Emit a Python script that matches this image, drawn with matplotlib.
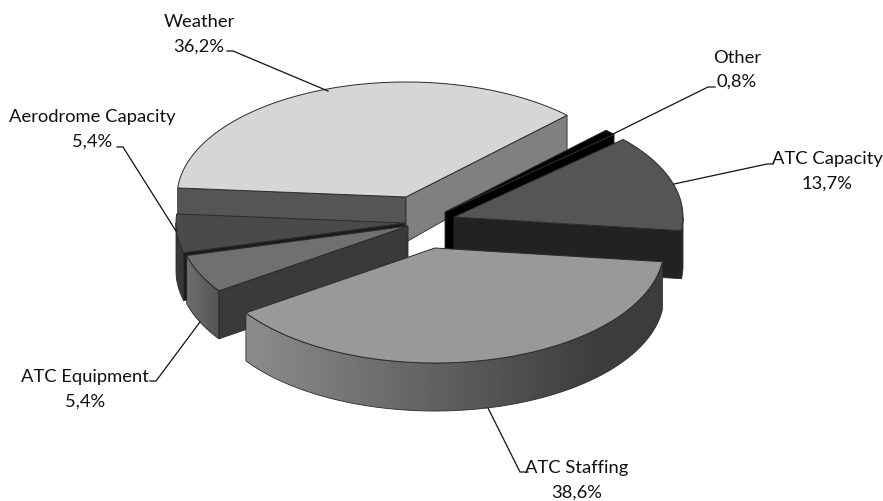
import numpy as np
import matplotlib
matplotlib.use("Agg")
import matplotlib.pyplot as plt
from matplotlib.patches import Polygon

# ---- data ----
categories = ["Other", "ATC Capacity", "ATC Staffing", "ATC Equipment", "Aerodrome Capacity", "Weather"]
shares = [0.8, 13.7, 38.6, 5.4, 5.4, 36.2]

# ---- styling / layout ----
START_ANGLE = 45.3
RX, RY = 229, 115
apex = {"Other": (445, 213), "ATC Capacity": (454, 218), "ATC Staffing": (435, 249),
        "ATC Equipment": (408, 227), "Aerodrome Capacity": (405, 224), "Weather": (406, 198)}
top_col = {"Other": "#000000", "ATC Capacity": "#555555", "ATC Staffing": "#999999",
           "ATC Equipment": "#707070", "Aerodrome Capacity": "#4a4a4a", "Weather": "#d6d6d6"}
# radial faces: (at slice start, at slice end); None = hidden
face_col = {"Other": (None, "#000000"), "ATC Capacity": (None, "#222222"), "ATC Staffing": (None, None),
            "ATC Equipment": ("#3a3a3a", None), "Aerodrome Capacity": ("#1c1c1c", None),
            "Weather": ("#555555", "#808080")}
# outer wall gradient: gray at the left end and at the right end, x range of the ramp
wall_grad = {"Other": (0.0, 0.0, 0, 1), "ATC Capacity": (0.13, 0.13, 0, 1),
             "ATC Staffing": (0.55, 0.235, 245, 600),
             "ATC Equipment": (0.44, 0.33, 185, 218),
             "Aerodrome Capacity": (0.22, 0.22, 0, 1), "Weather": (0.33, 0.33, 0, 1)}
draw_order = ["Weather", "Aerodrome Capacity", "ATC Equipment", "Other", "ATC Capacity", "ATC Staffing"]
label_pos = {"Other": (737, 58, 82), "ATC Capacity": (827, 159, 184), "ATC Staffing": (577, 468, 493),
             "ATC Equipment": (85, 377, 402), "Aerodrome Capacity": (92, 117, 142), "Weather": (199, 22, 47)}
leaders = {"Other": [(715, 88), (708, 88), (613, 135)],
           "ATC Capacity": [(773, 165), (767, 165), (674, 185)],
           "ATC Staffing": [(528, 473), (520, 473), (488, 409)],
           "ATC Equipment": [(150, 382), (156, 382), (200, 323)],
           "Aerodrome Capacity": [(117, 148), (123, 148), (176, 232)],
           "Weather": [(227, 52), (233, 52), (328, 92)]}
EDGE = "#2b2b2b"
FONT = "Lato"
FS = 13.2


def depth(y):
    return np.clip(35 + 0.125 * (np.asarray(y, float) - 117), 35, 48)


def pt(center, ang):
    a = np.radians(ang)
    return center[0] + RX * np.cos(a), center[1] - RY * np.sin(a)


def extrude(pts):
    pts = np.asarray(pts, float)
    out = pts.copy()
    out[:, 1] += depth(pts[:, 1])
    return out


fig = plt.figure(figsize=(8.83, 5.02), dpi=100)
ax = fig.add_axes([0, 0, 1, 1])
ax.axis("off")

# slice angles come from the shares, clockwise from the start angle
spans = np.array(shares) / sum(shares) * 360
ends = START_ANGLE - np.cumsum(spans)
starts = ends + spans
angles = {c: (s, e) for c, s, e in zip(categories, starts, ends)}

z = 1
for name in draw_order:
    a0, a1 = angles[name]
    c = apex[name]
    fs, fe = face_col[name]

    # outer wall, only the part facing the viewer (angles in the lower half)
    th = np.linspace(a0, a1, 200)
    vis = np.sin(np.radians(th)) < 0.0
    if vis.any():
        th = th[vis]
        top = np.array([pt(c, t) for t in th])
        bot = extrude(top)
        outline = np.vstack([top, bot[::-1]])
        gl, gr, xl, xr = wall_grad[name]
        x0, x1 = outline[:, 0].min(), outline[:, 0].max()
        y0, y1 = outline[:, 1].min(), outline[:, 1].max()
        xs = np.linspace(x0, x1, 300)
        g = gl + (gr - gl) * np.clip((xs - xl) / (xr - xl), 0, 1)
        patch = Polygon(outline, closed=True, facecolor="none", edgecolor=EDGE, lw=0.6, zorder=z + 1)
        ax.add_patch(patch)
        im = ax.imshow(g[None, :], cmap="gray", vmin=0, vmax=1, extent=(x0, x1, y1, y0),
                       aspect="auto", interpolation="bilinear", zorder=z)
        im.set_clip_path(patch)
        z += 2

    # radial faces
    for col, ang in ((fs, a0), (fe, a1)):
        if col is None:
            continue
        q = [c, pt(c, ang)]
        q = np.array(q + list(extrude(q)[::-1]))
        ax.add_patch(Polygon(q, closed=True, facecolor=col, edgecolor=EDGE, lw=0.6, zorder=z))
        z += 1

    # top
    arc = [pt(c, t) for t in np.linspace(a0, a1, 200)]
    ax.add_patch(Polygon([c] + arc, closed=True, facecolor=top_col[name],
                         edgecolor=EDGE, lw=0.7, zorder=z))
    z += 1

for name, share in zip(categories, shares):
    x, y1, y2 = label_pos[name]
    ax.text(x, y1, name, ha="center", va="center", family=FONT, fontsize=FS, color="#111111", zorder=z)
    ax.text(x, y2, f"{share:.1f}%".replace(".", ","), ha="center", va="center",
            family=FONT, fontsize=FS, color="#111111", zorder=z)
    xs, ys = zip(*leaders[name])
    ax.plot(xs, ys, color="#111111", lw=0.9, zorder=z, solid_joinstyle="miter")

ax.set_xlim(0, 883)
ax.set_ylim(502, 0)
fig.savefig("out.png", dpi=100)
